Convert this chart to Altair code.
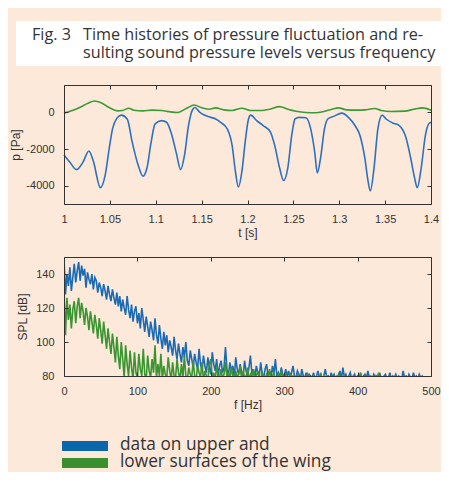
import altair as alt
import pandas as pd

# ---------------- data ----------------
# time histories (upper surface = blue, lower surface = green)
t_upper = [1.0000, 1.0064, 1.0136, 1.0207, 1.0271, 1.0321, 1.0396, 1.0450, 1.0493, 1.0529,
           1.0575, 1.0625, 1.0689, 1.0743, 1.0807, 1.0861, 1.0904, 1.0950, 1.0993, 1.1064,
           1.1118, 1.1171, 1.1225, 1.1271, 1.1314, 1.1357, 1.1404, 1.1429, 1.1475, 1.1529,
           1.1600, 1.1654, 1.1707, 1.1779, 1.1832, 1.1868, 1.1900, 1.1939, 1.1975, 1.2011,
           1.2036, 1.2100, 1.2171, 1.2250, 1.2296, 1.2350, 1.2393, 1.2439, 1.2482, 1.2518,
           1.2564, 1.2636, 1.2689, 1.2732, 1.2761, 1.2796, 1.2839, 1.2875, 1.2939, 1.3029,
           1.3100, 1.3171, 1.3225, 1.3279, 1.3314, 1.3339, 1.3379, 1.3421, 1.3468, 1.3511,
           1.3582, 1.3654, 1.3725, 1.3779, 1.3821, 1.3850, 1.3893, 1.3939, 1.3975, 1.4000]
p_upper = [-2321, -2714, -3125, -2714, -2107, -2679, -4107, -3393, -1964, -893,
           -321, -143, -357, -1607, -2857, -3482, -3036, -1607, -625, -446,
           -536, -1161, -2232, -3125, -2321, -714, 179, 268, 36, -143,
           -268, -357, -536, -893, -1786, -3214, -4071, -3214, -1607, -357,
           -143, -446, -714, -1071, -1786, -3036, -3714, -3036, -1250, -357,
           -268, -286, -893, -2143, -3304, -2500, -893, -357, -214, -36,
           -268, -714, -1250, -2500, -3750, -4286, -3036, -893, -143, -357,
           -571, -714, -1339, -2500, -3571, -4107, -3036, -1250, -625, -536]

t_lower = [1.0000, 1.0082, 1.0171, 1.0261, 1.0332, 1.0404, 1.0493, 1.0582, 1.0636, 1.0707,
           1.0761, 1.0861, 1.0957, 1.1064, 1.1154, 1.1243, 1.1332, 1.1421, 1.1493, 1.1582,
           1.1654, 1.1743, 1.1832, 1.1939, 1.2029, 1.2136, 1.2243, 1.2350, 1.2439, 1.2529,
           1.2636, 1.2743, 1.2832, 1.2921, 1.2993, 1.3082, 1.3189, 1.3279, 1.3386, 1.3457,
           1.3564, 1.3707, 1.3832, 1.3904, 1.4000]
p_lower = [-36, 89, 268, 500, 625, 536, 268, 89, 107, 232,
           125, 89, 125, 107, 36, 0, 214, 411, 268, 179,
           250, 143, 107, 232, 107, 107, 179, 321, 179, 71,
           0, -18, 54, 179, 250, 143, 125, 143, 214, 107,
           54, 71, 196, 250, 125]

spl_upper = [149, 128, 140, 133, 144, 130, 138, 146, 135, 142,
             147, 136, 145, 139, 143, 132, 141, 137, 134, 140,
             131, 138, 136, 129, 135, 132, 127, 134, 130, 125,
             133, 128, 124, 131, 126, 122, 129, 121, 127, 118,
             125, 120, 116, 127, 119, 114, 122, 112, 118, 121,
             111, 117, 108, 120, 113, 106, 115, 109, 103, 112,
             107, 101, 114, 104, 99, 110, 102, 96, 106, 98,
             104, 94, 101, 97, 92, 103, 95, 90, 99, 93,
             88, 97, 91, 100, 89, 86, 95, 90, 85, 93,
             88, 84, 96, 87, 83, 92, 86, 82, 91, 85,
             81, 94, 87, 83, 90, 80, 86, 89, 82, 85,
             97, 84, 80, 88, 83, 86, 79, 91, 84, 81,
             87, 82, 79, 89, 83, 80, 85, 92, 81, 84,
             79, 86, 82, 80, 88, 81, 79, 84, 87, 80,
             83, 79, 86, 81, 90, 80, 82, 79, 85, 81,
             79, 84, 80, 83, 78, 82, 86, 80, 79, 83,
             81, 78, 84, 80, 79, 82, 78, 81, 80, 79,
             82, 78, 80, 83, 79, 81, 78, 80, 84, 79,
             80, 78, 82, 79, 81, 78, 80, 79, 83, 78,
             85, 79, 81, 78, 80, 82, 78, 79, 81, 78,
             80, 79, 82, 78, 80, 81, 78, 83, 79, 80,
             78, 81, 79, 80, 78, 82, 79, 78, 80, 81,
             78, 79, 82, 78, 80, 79, 81, 78, 80, 79,
             78, 83, 79, 80, 78, 81, 79, 78, 82, 79,
             80, 78, 81, 79, 80, 78]
spl_lower = [131, 104, 126, 113, 122, 108, 119, 124, 111, 121,
             126, 114, 123, 118, 110, 120, 115, 107, 118, 112,
             105, 116, 110, 102, 114, 107, 99, 112, 104, 96,
             108, 100, 93, 105, 97, 88, 103, 92, 84, 100,
             90, 79, 98, 87, 80, 95, 85, 78, 94, 82,
             79, 93, 84, 80, 96, 81, 78, 92, 83, 79,
             90, 82, 98, 79, 87, 80, 93, 78, 86, 81,
             79, 91, 83, 78, 88, 80, 79, 90, 82, 78,
             87, 79, 92, 80, 78, 85, 81, 79, 89, 80,
             78, 86, 82, 79, 88, 78, 83, 80, 78, 87,
             90, 79, 82, 78, 86, 80, 79, 84, 78, 81,
             88, 79, 82, 78, 85, 80, 78, 83, 79, 81,
             86, 78, 82, 80, 79, 85, 78, 81, 79, 84,
             78, 80, 83, 79, 78, 82, 80, 78, 81, 79,
             84, 78, 80, 82, 78, 79, 81, 78, 83, 79,
             78, 81, 79, 78, 82, 78, 80, 79, 78, 81,
             78, 79, 80, 78, 79, 78, 81, 78, 79, 78,
             80, 78, 79, 78, 79, 81, 78, 79, 78, 80,
             78, 79, 78, 80, 78, 79, 78, 81, 78, 79,
             78, 80, 78, 79, 78, 79, 78, 80, 78, 79,
             78, 79, 81, 78, 79, 78, 80, 78, 79, 78,
             79, 78, 80, 78, 81, 78, 79]
f_step = 2

series_colors_time = ["#2d70bf", "#3c9a36"]
series_colors_spec = ["#1b6ab4", "#3a942f"]
legend_labels = ["data on upper and", "lower surfaces of the wing"]
legend_colors = ["#0b67ab", "#3a8f2f"]

t_ticks = [1, 1.05, 1.1, 1.15, 1.2, 1.25, 1.3, 1.35, 1.4]
p_ticks = [-4000, -2000, 0]
f_ticks = [0, 100, 200, 300, 400, 500]
spl_ticks = [80, 100, 120, 140]

title_fig = "Fig. 3"
title_lines = ["Time histories of pressure fluctuation and re-",
               "sulting sound pressure levels versus frequency"]

# ---------------- tables ----------------
ts_up = pd.DataFrame({"t": t_upper, "p": p_upper})
ts_lo = pd.DataFrame({"t": t_lower, "p": p_lower})
sp_up = pd.DataFrame({"f": [i * f_step for i in range(len(spl_upper))], "spl": spl_upper})
sp_lo = pd.DataFrame({"f": [i * f_step for i in range(len(spl_lower))], "spl": spl_lower})

W = 367
H1 = 119
H2 = 119
GAP = 53
BG = "#fce9da"
FONT = "Liberation Sans"
TXT = "Open Sans"
INK = "#333333"


def in_axes(orient, off, vals, dom):
    return alt.Axis(orient=orient, offset=off, values=vals, labels=False, title=None,
                    ticks=True, tickSize=4, tickColor=INK, domain=dom, domainColor=INK,
                    grid=False, zindex=1)


def main_x(vals, title, fmt):
    return alt.Axis(orient="bottom", values=vals, format=fmt, title=title, ticks=False, tickSize=0,
                    labelPadding=9, titlePadding=3, labelFlush=False, labelOverlap=False,
                    domain=True, domainColor=INK, zindex=1)


def main_y(vals, title, tpad):
    return alt.Axis(orient="left", values=vals, labelExpr="'' + datum.value", title=title,
                    ticks=False, tickSize=0, labelPadding=10, titlePadding=tpad,
                    labelFlush=False, labelOverlap=False, domain=True, domainColor=INK, zindex=1)


one = pd.DataFrame({"k": [0]})

# ---------------- top panel ----------------
xs1 = alt.Scale(domain=[1, 1.4], nice=False, zero=False)
ys1 = alt.Scale(domain=[-5000, 1500], nice=False, zero=False)

# full-canvas background (page area 8..441 x 8..472)
canvas = alt.Chart(one).mark_rect(color=BG).encode(
    x=alt.value(-56), x2=alt.value(377), y=alt.value(-77), y2=alt.value(387))

blue_t = alt.Chart(ts_up).mark_line(strokeWidth=1.6, color=series_colors_time[0], interpolate="monotone").encode(
    x=alt.X("t:Q", scale=xs1, axis=main_x(t_ticks, "t [s]", "~g")),
    y=alt.Y("p:Q", scale=ys1, axis=main_y(p_ticks, "p [Pa]", 3)),
    order="t:Q",
)
green_t = alt.Chart(ts_lo).mark_line(strokeWidth=1.6, color=series_colors_time[1], interpolate="monotone").encode(
    x=alt.X("t:Q", scale=xs1, axis=in_axes("top", -H1, t_ticks, False)),
    y=alt.Y("p:Q", scale=ys1, axis=in_axes("right", -W, p_ticks, False)),
    order="t:Q",
)
ghost_t = alt.Chart(ts_lo).mark_line(opacity=0).encode(
    x=alt.X("t:Q", scale=xs1, axis=in_axes("bottom", -H1, t_ticks, True)),
    y=alt.Y("p:Q", scale=ys1, axis=in_axes("left", -W, p_ticks, True)),
)

title_box = alt.Chart(one).mark_rect(color="white").encode(
    x=alt.value(-48), x2=alt.value(377), y=alt.value(-64), y2=alt.value(-19))
fig_txt = alt.Chart(one).mark_text(align="left", baseline="middle", font=TXT, fontSize=16.2, color=INK,
                                   text=title_fig).encode(x=alt.value(-32), y=alt.value(-50))
l1_txt = alt.Chart(one).mark_text(align="left", baseline="middle", font=TXT, fontSize=16.2, color=INK,
                                  text=title_lines[0]).encode(x=alt.value(19), y=alt.value(-50))
l2_txt = alt.Chart(one).mark_text(align="left", baseline="middle", font=TXT, fontSize=16.2, color=INK,
                                  text=title_lines[1]).encode(x=alt.value(19), y=alt.value(-32))

top = alt.layer(canvas, title_box, fig_txt, l1_txt, l2_txt, blue_t, green_t, ghost_t).resolve_axis(
    x="independent", y="independent").properties(width=W, height=H1)

# ---------------- bottom panel ----------------
xs2 = alt.Scale(domain=[0, 500], nice=False, zero=False)
ys2 = alt.Scale(domain=[80, 150], nice=False, zero=False)

blue_s = alt.Chart(sp_up).mark_line(strokeWidth=1.6, color=series_colors_spec[0], clip=True).encode(
    x=alt.X("f:Q", scale=xs2, axis=main_x(f_ticks, "f [Hz]", "d")),
    y=alt.Y("spl:Q", scale=ys2, axis=main_y(spl_ticks, "SPL [dB]", 6)),
    order="f:Q",
)
green_s = alt.Chart(sp_lo).mark_line(strokeWidth=1.6, color=series_colors_spec[1], clip=True).encode(
    x=alt.X("f:Q", scale=xs2, axis=in_axes("top", -H2, f_ticks, False)),
    y=alt.Y("spl:Q", scale=ys2, axis=in_axes("right", -W, spl_ticks, False)),
    order="f:Q",
)
ghost_s = alt.Chart(sp_lo).mark_line(opacity=0).encode(
    x=alt.X("f:Q", scale=xs2, axis=in_axes("bottom", -H2, f_ticks, True)),
    y=alt.Y("spl:Q", scale=ys2, axis=in_axes("left", -W, spl_ticks, True)),
)

leg_rect1 = alt.Chart(one).mark_rect(color=legend_colors[0]).encode(
    x=alt.value(-2), x2=alt.value(44), y=alt.value(184), y2=alt.value(194))
leg_rect2 = alt.Chart(one).mark_rect(color=legend_colors[1]).encode(
    x=alt.value(-2), x2=alt.value(44), y=alt.value(201), y2=alt.value(211))
leg_t1 = alt.Chart(one).mark_text(align="left", baseline="middle", font=TXT, fontSize=17.3, color=INK,
                                  text=legend_labels[0]).encode(x=alt.value(56), y=alt.value(187.5))
leg_t2 = alt.Chart(one).mark_text(align="left", baseline="middle", font=TXT, fontSize=17.3, color=INK,
                                  text=legend_labels[1]).encode(x=alt.value(56), y=alt.value(204.5))

bottom = alt.layer(blue_s, green_s, ghost_s, leg_rect1, leg_rect2, leg_t1, leg_t2).resolve_axis(
    x="independent", y="independent").properties(width=W, height=H2)

chart = alt.vconcat(top, bottom, spacing=GAP, bounds="flush").properties(
    background=BG,
    padding=0,
).configure_view(strokeWidth=0).configure_axis(
    labelFont=FONT, labelFontSize=11, labelColor=INK,
    titleFont=FONT, titleFontSize=12, titleFontWeight="normal", titleColor=INK,
    grid=False,
)

chart.save("out.html", embed_options={"renderer": "svg", "actions": False})
